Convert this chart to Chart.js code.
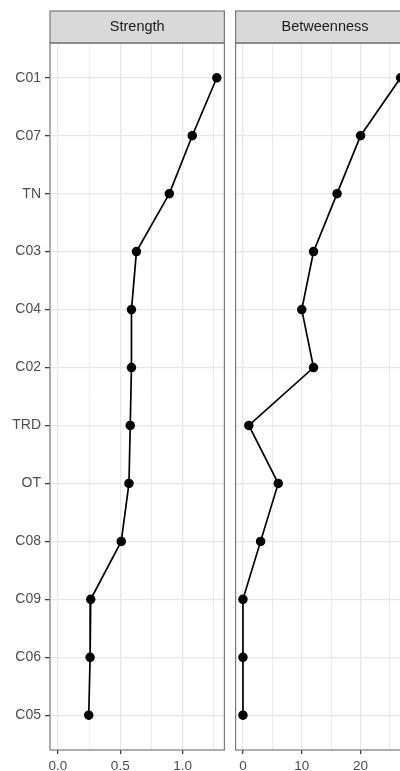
<!DOCTYPE html>
<html>
<head>
<meta charset="utf-8">
<script src="https://cdn.jsdelivr.net/npm/chart.js@4.4.1/dist/chart.umd.min.js"></script>
<style>
  html, body { margin: 0; padding: 0; background: #fff; overflow: hidden; width: 400px; height: 771px; }
  canvas { position: absolute; top: 0; }
  #strengthChart { left: 0; }
  #betweenChart { left: 230px; }
</style>
</head>
<body>
<canvas id="strengthChart" width="230" height="771"></canvas>
<canvas id="betweenChart" width="190" height="771"></canvas>
<script>
// nodes, top to bottom
const nodes = ['C01', 'C07', 'TN', 'C03', 'C04', 'C02', 'TRD', 'OT', 'C08', 'C09', 'C06', 'C05'];
const strength = [1.275, 1.078, 0.894, 0.63, 0.59, 0.59, 0.58, 0.57, 0.508, 0.263, 0.258, 0.247];
const betweenness = [26.8, 20, 16, 12, 10, 12, 1, 6, 3, 0, 0, 0];

const strengthTicks = [0, 0.25, 0.5, 0.75, 1.0, 1.25];
const betweenTicks = [0, 5, 10, 15, 20, 25];

const FONT = "'Liberation Sans', Arial, Helvetica, sans-serif";

// strip header + panel border
const facetPlugin = {
  id: 'facet',
  afterDraw(chart, args, opts) {
    const { ctx, chartArea: a } = chart;
    ctx.save();
    ctx.fillStyle = '#d9d9d9';
    ctx.fillRect(a.left, 11, a.right - a.left, a.top - 11);
    ctx.strokeStyle = '#7a7a7a';
    ctx.lineWidth = 1.2;
    ctx.strokeRect(a.left, 11, a.right - a.left, a.top - 11);
    ctx.strokeRect(a.left, a.top, a.right - a.left, a.bottom - a.top);
    ctx.fillStyle = '#1a1a1a';
    ctx.font = '14.5px ' + FONT;
    ctx.textAlign = 'center';
    ctx.textBaseline = 'middle';
    ctx.fillText(opts.title, (a.left + a.right) / 2, 27);
    ctx.restore();
  }
};

function makePanel(id, values, xMin, xMax, xTicks, fmt, opts) {
  const isMajor = v => fmt(v) !== '';
  return new Chart(document.getElementById(id), {
    type: 'scatter',
    data: {
      datasets: [{
        data: values.map((v, i) => ({ x: v, y: i + 1 })),
        showLine: true,
        borderColor: '#000',
        borderWidth: 1.7,
        backgroundColor: '#000',
        pointRadius: 3.9,
        pointHoverRadius: 3.9,
        clip: false
      }]
    },
    options: {
      responsive: false,
      animation: false,
      devicePixelRatio: 1,
      layout: { padding: { top: 43, right: opts.padRight, left: 0, bottom: 0 } },
      plugins: {
        legend: { display: false },
        tooltip: { enabled: false },
        facet: { title: opts.title }
      },
      scales: {
        x: {
          type: 'linear',
          min: xMin,
          max: xMax,
          afterBuildTicks: s => { s.ticks = xTicks.map(v => ({ value: v })); },
          afterFit: s => { s.height = 21; },
          border: { display: false },
          grid: {
            color: '#e8e8e8',
            lineWidth: c => (c.tick && isMajor(c.tick.value)) ? 1.3 : 0.8,
            tickLength: 4,
            tickColor: c => (c.tick && isMajor(c.tick.value)) ? '#333' : 'rgba(0,0,0,0)',
            tickWidth: 1.2
          },
          ticks: {
            autoSkip: false,
            maxRotation: 0,
            padding: 4,
            color: '#4d4d4d',
            font: { family: FONT, size: 13.5 },
            callback: v => fmt(v)
          }
        },
        y: {
          type: 'linear',
          reverse: true,
          min: 0.4,
          max: nodes.length + 0.6,
          afterBuildTicks: s => { s.ticks = nodes.map((n, i) => ({ value: i + 1 })); },
          afterFit: s => { s.width = opts.yWidth; },
          border: { display: false },
          grid: {
            color: '#e8e8e8',
            lineWidth: 1.3,
            tickLength: 5,
            drawTicks: opts.showY,
            tickColor: '#333',
            tickWidth: 1.2
          },
          ticks: {
            display: opts.showY,
            autoSkip: false,
            padding: 4,
            color: '#4d4d4d',
            font: { family: FONT, size: 14 },
            callback: v => nodes[Math.round(v) - 1] || ''
          }
        }
      }
    },
    plugins: [facetPlugin]
  });
}

makePanel('strengthChart', strength, -0.064, 1.336, strengthTicks,
  v => (Math.abs(v * 2 - Math.round(v * 2)) < 1e-6) ? v.toFixed(1) : '',
  { title: 'Strength', padRight: 5, yWidth: 50, showY: true });

makePanel('betweenChart', betweenness, -1.25, 29.15, betweenTicks,
  v => (v % 10 === 0) ? String(v) : '',
  { title: 'Betweenness', padRight: 5, yWidth: 5, showY: false });
</script>
</body>
</html>
